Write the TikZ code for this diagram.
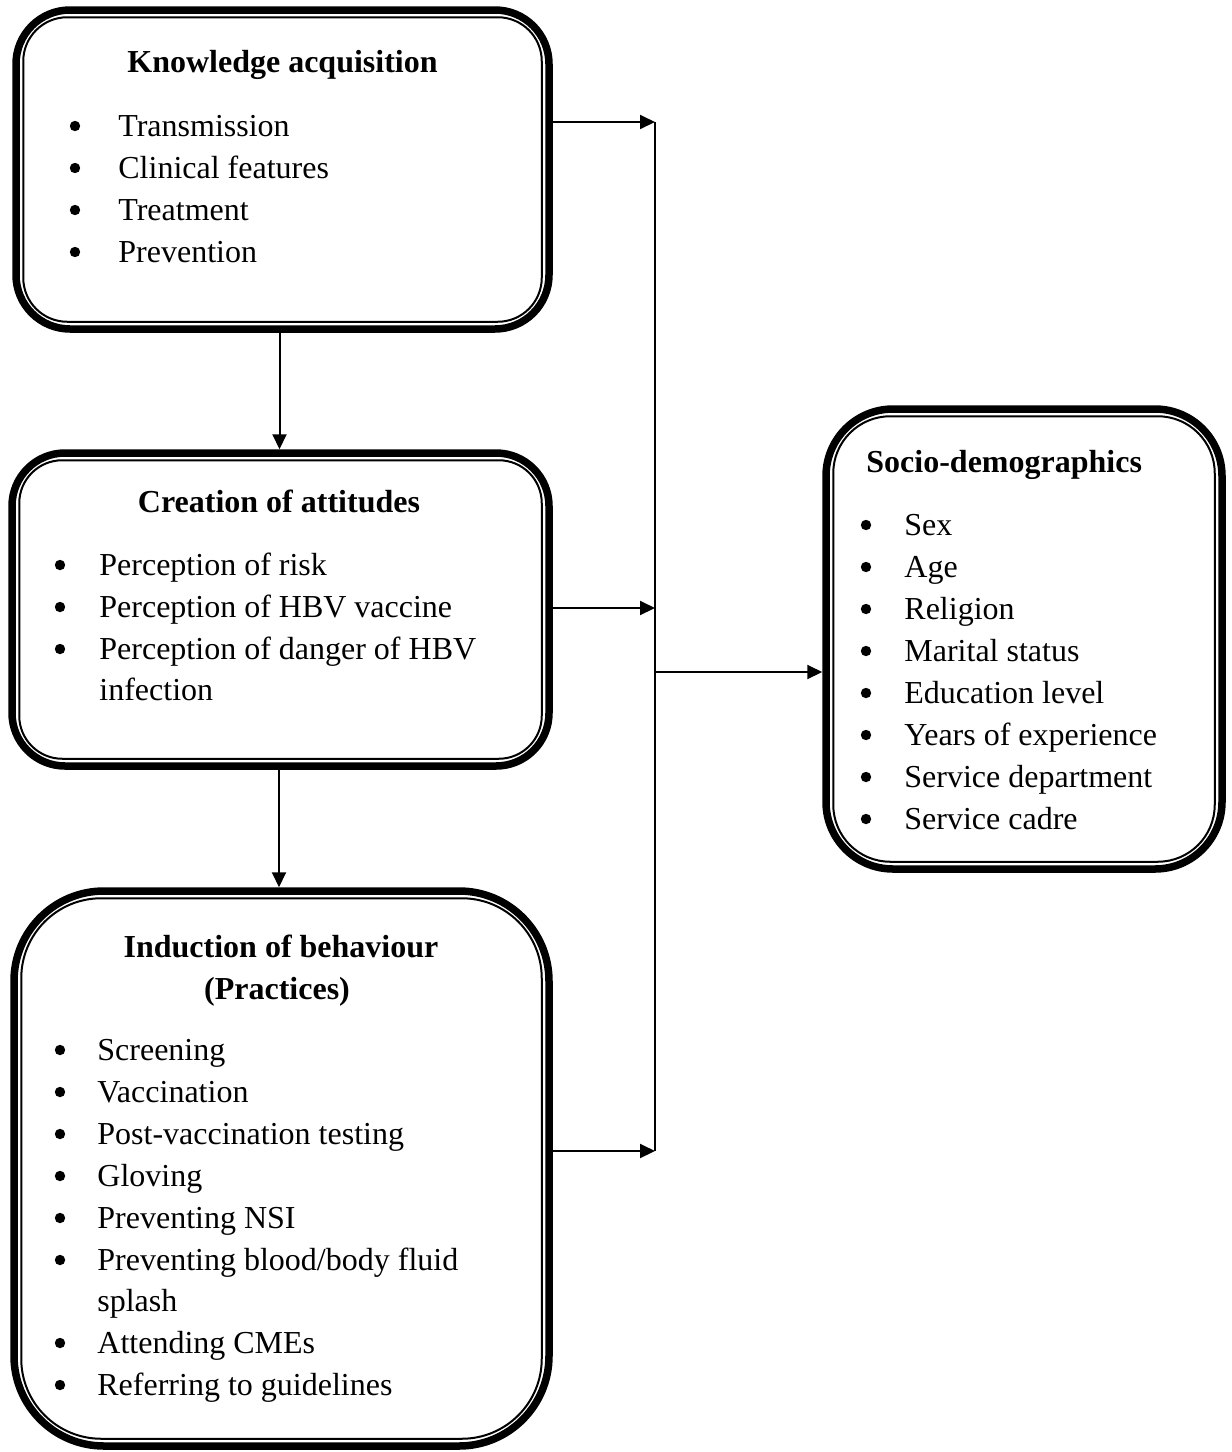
\documentclass[tikz,border=0pt]{standalone}
\usepackage{fontspec}
\setmainfont{Liberation Serif}
\usetikzlibrary{arrows.meta,fit}
\begin{document}
\begin{tikzpicture}[x=0.5pt,y=-0.5pt,
  box/.style={draw, line width=3.75pt, inner sep=0pt},
  innerline/.style={line width=1pt},
  txt/.style={anchor=base west, inner sep=0pt, font=\fontsize{16}{20}\selectfont},
  ttl/.style={anchor=base, inner sep=0pt, font=\fontsize{16}{20}\selectfont\bfseries},
  ttlw/.style={anchor=base west, inner sep=0pt, font=\fontsize{16}{20}\selectfont\bfseries},
  bul/.style={circle, fill, inner sep=0pt, minimum size=5.2pt},
  ln/.style={line width=1pt},
  arr/.style={line width=1pt, -{Triangle[length=7.5pt,width=7pt]}}]
\useasboundingbox (0,0) rectangle (1232,1452);

% boxes
\node[box, rounded corners=27pt, fit={(16,10) (549,329)}] (k) {};
\draw[innerline, rounded corners=22pt] ([shift={(11,11)}]k.north west) rectangle ([shift={(-11,-11)}]k.south east);
\node[box, rounded corners=26.5pt, fit={(12,453) (549,766)}] (c) {};
\draw[innerline, rounded corners=21.5pt] ([shift={(11,11)}]c.north west) rectangle ([shift={(-11,-11)}]c.south east);
\node[box, rounded corners=45pt, fit={(14,891) (549,1446)}] (p) {};
\draw[innerline, rounded corners=40pt] ([shift={(11,11)}]p.north west) rectangle ([shift={(-11,-11)}]p.south east);
\node[box, rounded corners=33.5pt, fit={(826,409) (1222,869)}] (s) {};
\draw[innerline, rounded corners=28.5pt] ([shift={(11,11)}]s.north west) rectangle ([shift={(-11,-11)}]s.south east);

% box 1 text
\node[ttl] (kt) at (282.5,72) {Knowledge acquisition};
\foreach \y/\t [count=\i] in {136/Transmission,178/Clinical features,220/Treatment,262/Prevention}{
  \node[bul] (kb\i) at (75,\y-10) {};
  \node[txt] (ki\i) at (118,\y) {\t};
}

% box 2 text
\node[ttl] (ct) at (279,512) {Creation of attitudes};
\foreach \y/\t [count=\i] in {575/Perception of risk,617/Perception of HBV vaccine,659/Perception of danger of HBV}{
  \node[bul] (cb\i) at (60,\y-10) {};
  \node[txt] (ci\i) at (99,\y) {\t};
}
\node[txt] (ci4) at (99,700) {infection};

% box 3 text
\node[ttl] (pt1) at (281,957) {Induction of behaviour};
\node[ttl] (pt2) at (277,999) {(Practices)};
\foreach \y/\t [count=\i] in {1060/Screening,1102/Vaccination,1144/Post-vaccination testing,1186/Gloving,1228/Preventing NSI}{
  \node[bul] (pb\i) at (60,\y-10) {};
  \node[txt] (pi\i) at (97,\y) {\t};
}
\node[bul] (pb6) at (60,1260) {};
\node[txt] (pi6) at (97,1270) {Preventing blood/body fluid};
\node[txt] (pi7) at (97,1311) {splash};
\node[bul] (pb8) at (60,1343) {};
\node[txt] (pi8) at (97,1353) {Attending CMEs};
\node[bul] (pb9) at (60,1385) {};
\node[txt] (pi9) at (97,1395) {Referring to guidelines};

% box 4 text
\node[ttlw] (st) at (866,472) {Socio-demographics};
\foreach \y/\t [count=\i] in {535/Sex,577/Age,619/Religion,661/Marital status,703/Education level,745/Years of experience,787/Service department,829/Service cadre}{
  \node[bul] (sb\i) at (866,\y-10) {};
  \node[txt] (si\i) at (904,\y) {\t};
}

% connectors
\coordinate (jt) at (655,122);
\coordinate (j2) at (655,608);
\coordinate (jm) at (655,672);
\coordinate (jb) at (655,1151);
\draw[ln] (jt) -- (jb);
\draw[arr] (k.east |- jt) -- (jt);
\draw[arr] (c.east |- j2) -- (j2);
\draw[arr] (p.east |- jb) -- (jb);
\draw[arr] (jm) -- (jm -| s.west);
\draw[arr] ([xshift=-1.5pt]k.south) -- ([xshift=-1.5pt]k.south |- c.north);
\draw[arr] ([xshift=-0.75pt]c.south) -- ([xshift=-0.75pt]c.south |- p.north);
\end{tikzpicture}
\end{document}
